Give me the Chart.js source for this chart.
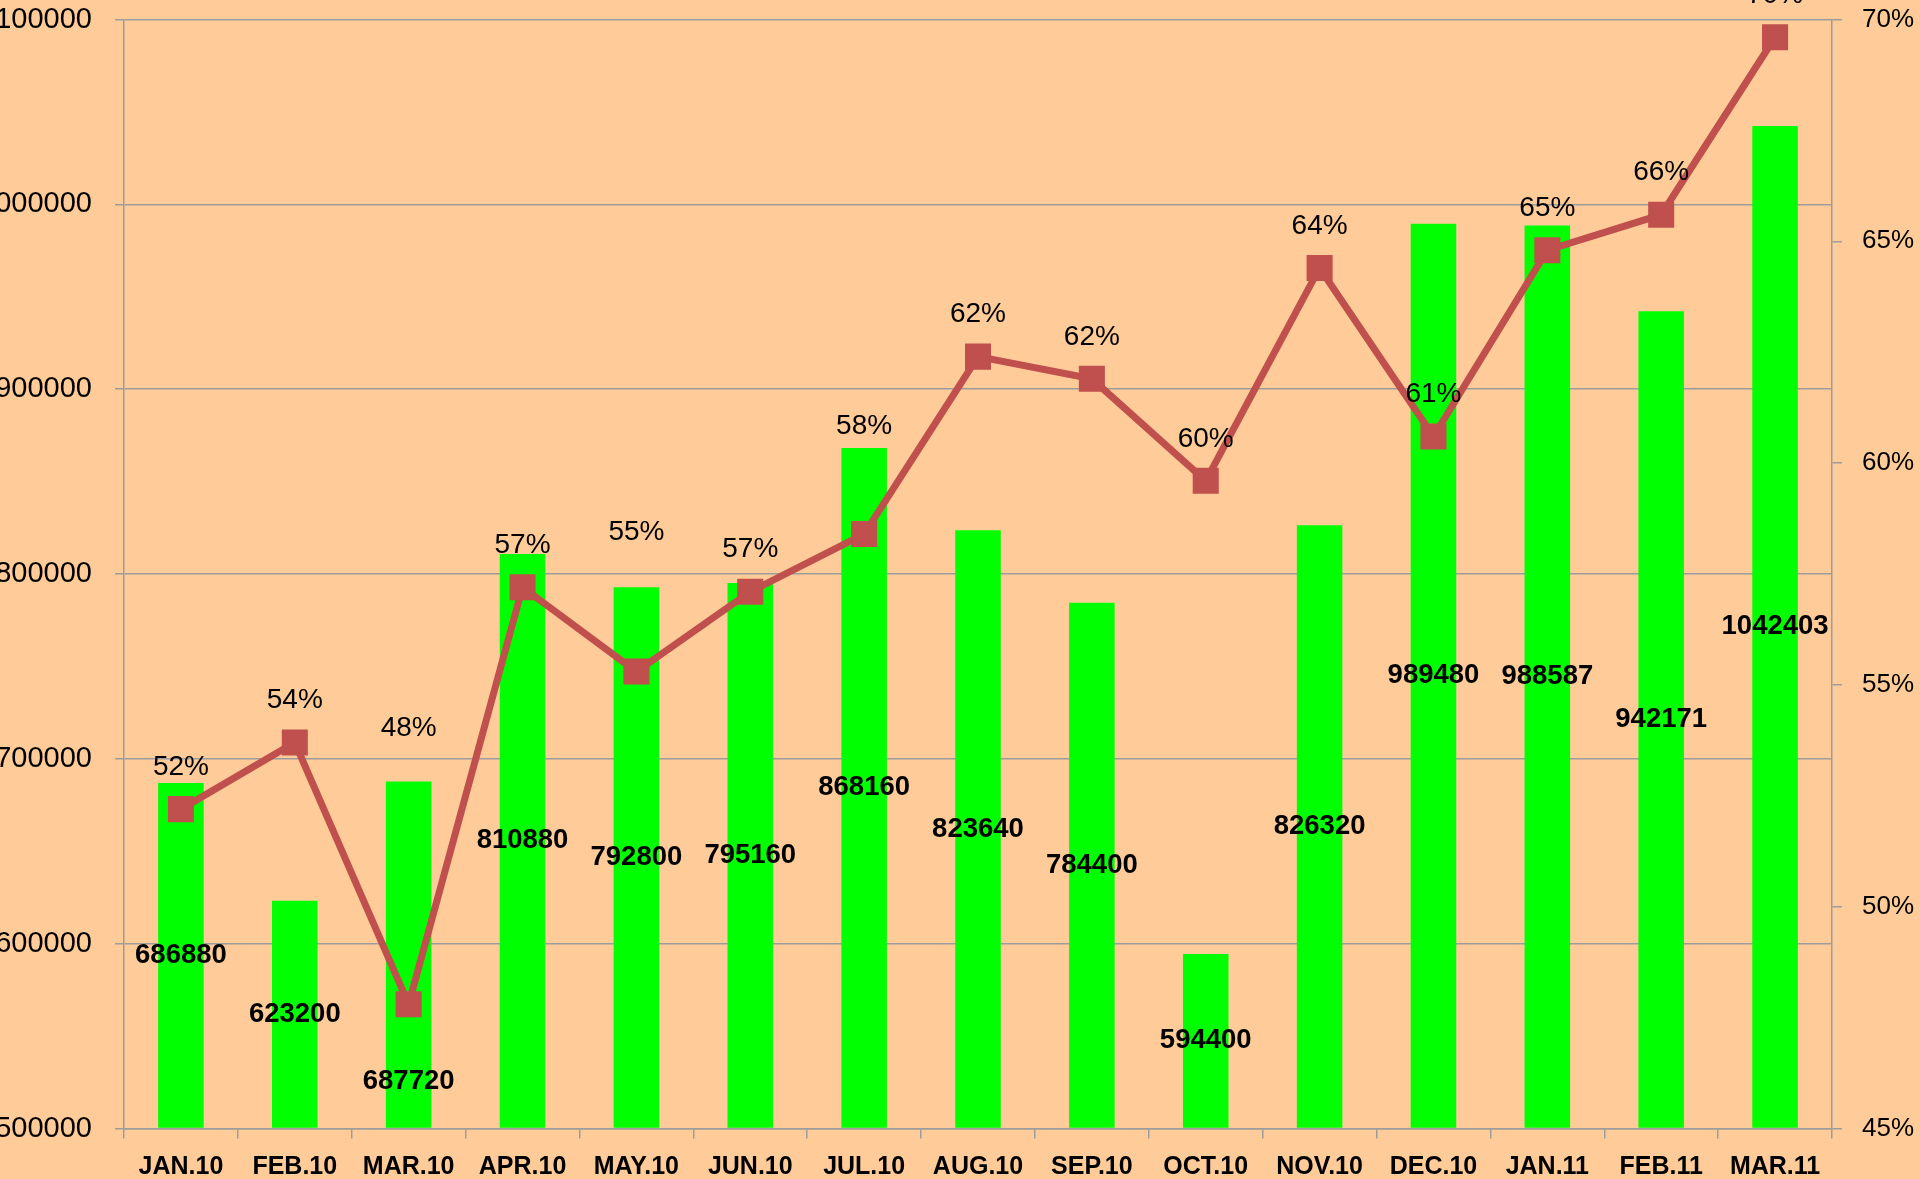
<!DOCTYPE html>
<html>
<head>
<meta charset="utf-8">
<script src="https://cdn.jsdelivr.net/npm/chart.js@4.4.1/dist/chart.umd.min.js"></script>
<style>
  html, body { margin: 0; padding: 0; background: #FFCC99; }
  #caixa { width: 1920px; height: 1179px; position: relative; }
</style>
</head>
<body>
<div id="caixa"><canvas id="grafico"></canvas></div>
<script>
// dados
const meses = ['JAN.10', 'FEB.10', 'MAR.10', 'APR.10', 'MAY.10', 'JUN.10', 'JUL.10', 'AUG.10',
  'SEP.10', 'OCT.10', 'NOV.10', 'DEC.10', 'JAN.11', 'FEB.11', 'MAR.11'];
const valores = [686880, 623200, 687720, 810880, 792800, 795160, 868160, 823640,
  784400, 594400, 826320, 989480, 988587, 942171, 1042403];
const percentuais = [52.2, 53.7, 47.8, 57.2, 55.3, 57.1, 58.4, 62.4,
  61.9, 59.6, 64.4, 60.6, 64.8, 65.6, 69.6];

const fonte = '"Liberation Sans", Arial, sans-serif';
const corGrade = '#9c9c9c';

// rotulos das barras (no meio) e da linha (acima do ponto)
const rotulos = {
  id: 'rotulos',
  afterDatasetsDraw(chart, args, opts) {
    const ctx = chart.ctx;
    const barras = chart.getDatasetMeta(0);
    const linha = chart.getDatasetMeta(1);
    ctx.save();
    ctx.fillStyle = '#000';
    ctx.textAlign = 'center';
    ctx.textBaseline = 'middle';

    ctx.font = 'bold 27.5px ' + fonte;
    barras.data.forEach((barra, i) => {
      const meio = (barra.y + barra.base) / 2;
      ctx.fillText(String(valores[i]), barra.x, meio + (opts.desvioBarras[i] || 0));
    });

    ctx.font = '28px ' + fonte;
    linha.data.forEach((ponto, i) => {
      const texto = Math.round(percentuais[i]) + '%';
      ctx.fillText(texto, ponto.x, ponto.y - 42 + (opts.desvioLinha[i] || 0));
    });
    ctx.restore();
  }
};

// eixos verticais sem folga extra em cima/baixo
function semFolga(escala) {
  escala.paddingTop = 0;
  escala.paddingBottom = 0;
}

new Chart(document.getElementById('grafico'), {
  data: {
    labels: meses,
    datasets: [
      {
        type: 'bar',
        data: valores,
        yAxisID: 'y',
        base: 500000,
        backgroundColor: '#00FF00',
        barPercentage: 0.4,
        categoryPercentage: 1,
        order: 2
      },
      {
        type: 'line',
        data: percentuais,
        yAxisID: 'y1',
        borderColor: '#C0504D',
        backgroundColor: '#C0504D',
        borderWidth: 7,
        tension: 0,
        pointStyle: 'rect',
        pointRadius: 17,
        pointBorderWidth: 2,
        pointBorderColor: '#C0504D',
        pointBackgroundColor: '#C0504D',
        clip: false,
        order: 1
      }
    ]
  },
  options: {
    responsive: true,
    maintainAspectRatio: false,
    animation: false,
    layout: { padding: { top: 19.5, left: 0, right: 0, bottom: 0 } },
    plugins: {
      legend: { display: false },
      tooltip: { enabled: false },
      rotulos: {
        desvioBarras: { 2: 127 },
        desvioLinha: { 2: -234, 4: -97, 6: -66 }
      }
    },
    scales: {
      x: {
        offset: true,
        grid: { offset: true, drawOnChartArea: false, drawTicks: true, tickLength: 10, color: corGrade, lineWidth: 1.5 },
        border: { color: corGrade, width: 1.5 },
        ticks: {
          autoSkip: false, maxRotation: 0, padding: 14,
          color: '#000',
          font: { family: fonte, size: 25, weight: 'bold' }
        },
        afterFit(escala) {
          escala.height = 50.5;
          escala.paddingLeft = 0;
          escala.paddingRight = 0;
        }
      },
      y: {
        position: 'left',
        min: 500000,
        max: 1100000,
        grid: { color: corGrade, lineWidth: 1.5, tickLength: 9 },
        border: { color: corGrade, width: 1.5 },
        ticks: {
          stepSize: 100000, padding: 23,
          color: '#000',
          font: { family: fonte, size: 29 },
          callback: v => String(v)
        },
        afterFit(escala) { escala.width = 124; semFolga(escala); }
      },
      y1: {
        position: 'right',
        min: 45,
        max: 70,
        grid: { drawOnChartArea: false, color: corGrade, lineWidth: 1.5, tickLength: 10 },
        border: { color: corGrade, width: 1.5 },
        ticks: {
          stepSize: 5, padding: 20,
          color: '#000',
          font: { family: fonte, size: 26 },
          callback: v => v + '%'
        },
        afterFit(escala) { escala.width = 88; semFolga(escala); }
      }
    }
  },
  plugins: [rotulos]
});
</script>
</body>
</html>
